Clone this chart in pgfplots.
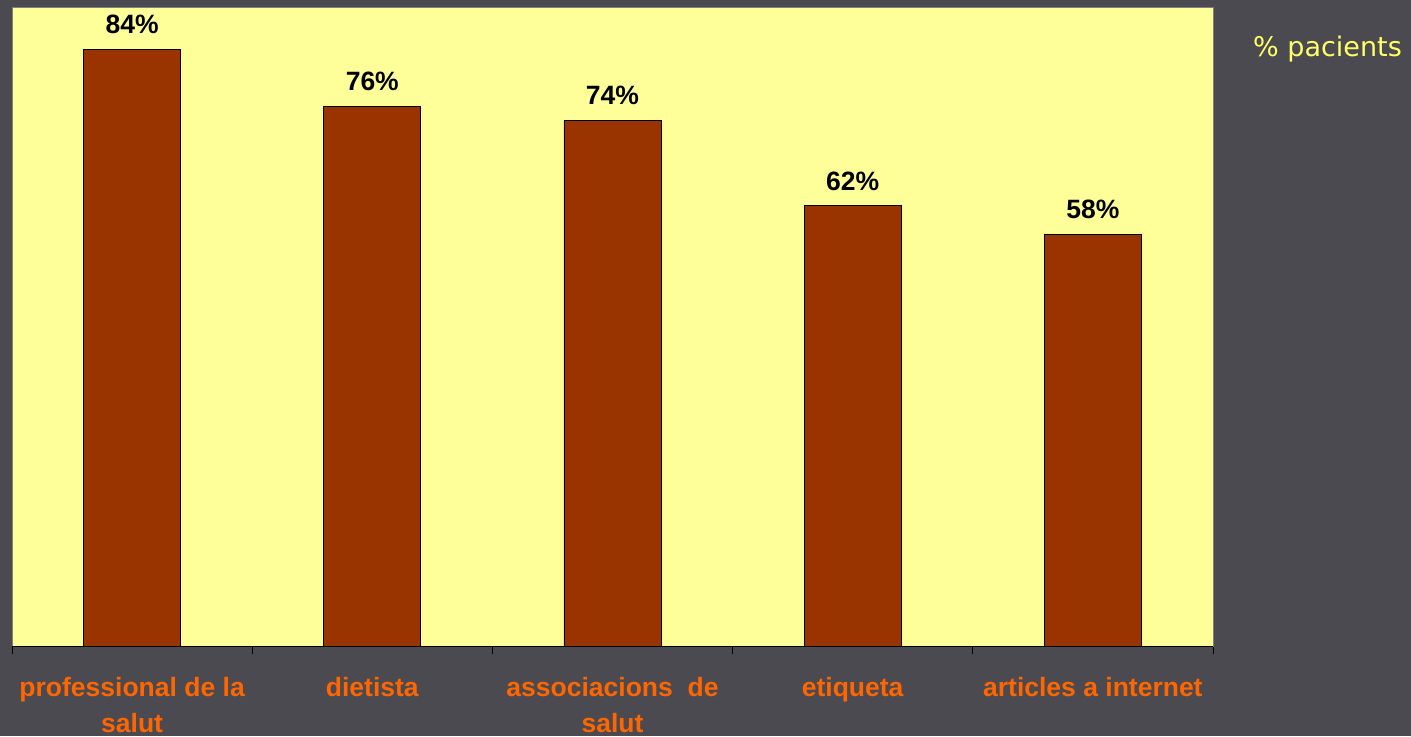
\documentclass[border=0pt]{standalone}
\usepackage{pgfplots}
\pgfplotsset{compat=1.18}
\usepackage{fontspec}
\setmainfont{Liberation Sans}
\newfontfamily\legfont{DejaVu Sans}
\definecolor{bgc}{RGB}{75,74,80}
\definecolor{plotyel}{RGB}{255,255,153}
\definecolor{barc}{RGB}{153,51,0}
\definecolor{labor}{RGB}{255,102,0}
\definecolor{legyel}{RGB}{255,255,102}
\begin{document}
\begin{tikzpicture}[x=1bp,y=1bp]
\useasboundingbox (0,0) rectangle (1411,736);
\fill[bgc] (0,0) rectangle (1411,736);
\begin{axis}[
  at={(12bp,90bp)}, anchor=south west,
  width=1201bp, height=639bp, scale only axis,
  xmin=-0.5, xmax=4.5, ymin=0, ymax=90,
  /pgf/number format/assume math mode=true,
  axis background/.style={fill=plotyel},
  axis line style={draw=gray, line width=0.8pt},
  ytick=\empty,
  xtick={0,1,2,3,4},
  major x tick style={draw=none},
  minor xtick={-0.5,0.5,1.5,2.5,3.5,4.5},
  minor x tick style={black, line width=0.8pt},
  minor tick length=8bp,
  tick align=outside,
  xtick pos=bottom,
  xticklabels={professional de la\\salut, dietista, associacions~~de\\salut, etiqueta, articles a internet},
  xticklabel style={align=center, anchor=north, inner sep=0pt, yshift=-27bp,
    font=\fontsize{26.5bp}{36bp}\selectfont\bfseries, text=labor},
  nodes near coords={\pgfmathprintnumber{\pgfplotspointmeta}\%},
  every node near coord/.append style={font=\fontsize{26.5bp}{30bp}\selectfont\bfseries, text=black, inner sep=0pt, yshift=15bp, anchor=south},
  clip=false,
]
\addplot[ybar, bar width=0.404, fill=barc, draw=black, line width=0.8pt] coordinates {(0,84) (1,76) (2,74) (3,62) (4,58)};
\draw[black, line width=0.8pt] (axis cs:-0.5,0) -- (axis cs:4.5,0);
\end{axis}
\node[anchor=base west, inner sep=0pt, text=legyel, font=\legfont\fontsize{27bp}{30bp}\selectfont] at (1253,679) {\% pacients};
\end{tikzpicture}
\end{document}
